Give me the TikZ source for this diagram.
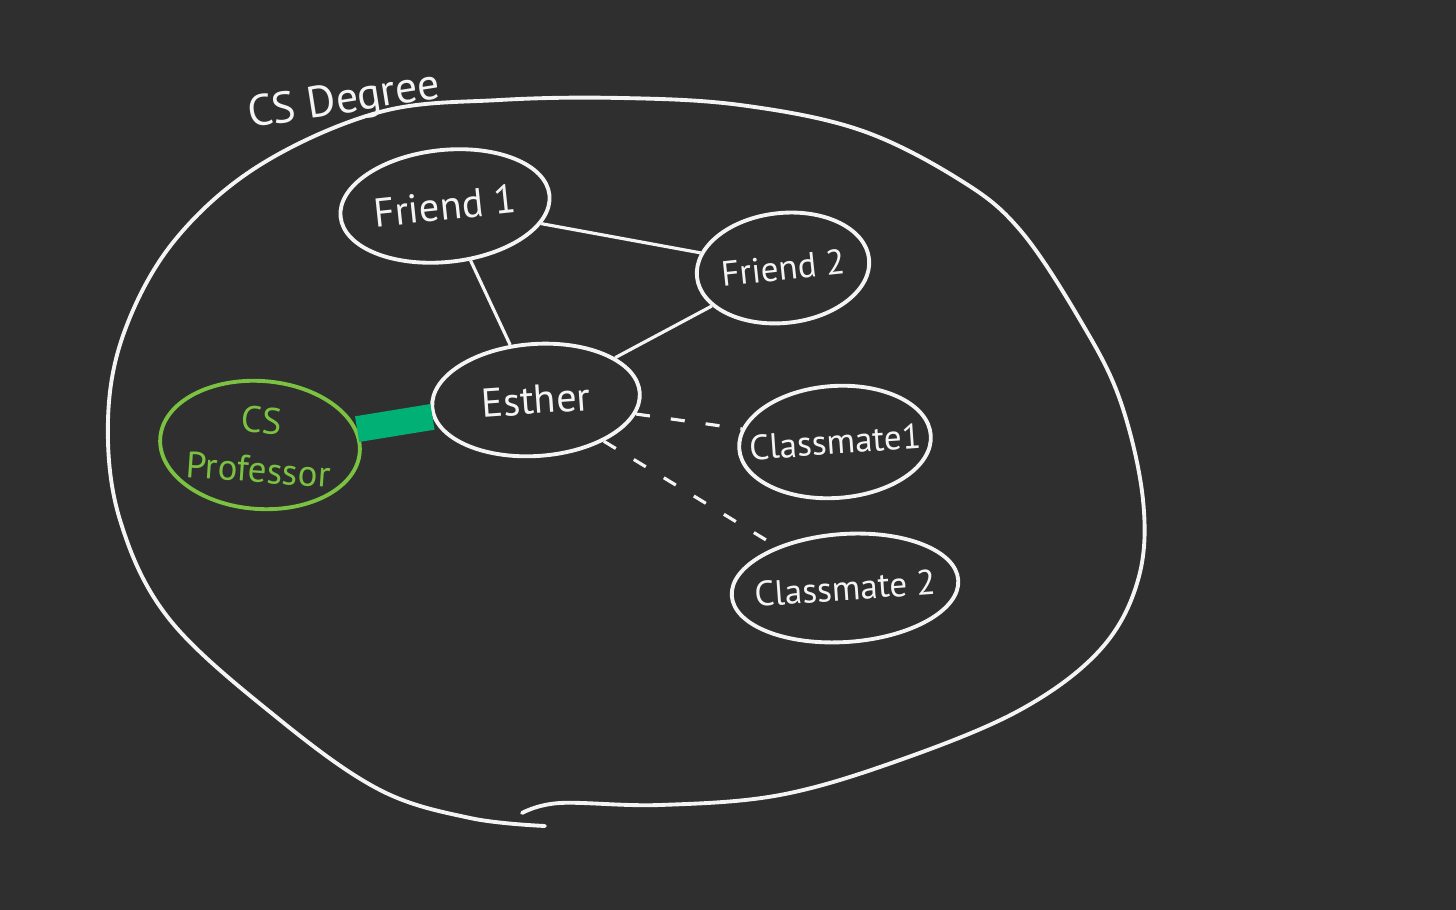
\documentclass[tikz,border=0pt]{standalone}
\usepackage{fontspec}
\setmainfont{PT Sans}
\usetikzlibrary{shapes.geometric,positioning,calc}
\definecolor{board}{HTML}{2F2F2F}
\definecolor{chalk}{HTML}{F4F4F4}
\definecolor{profgreen}{HTML}{7CC242}
\definecolor{marker}{HTML}{00B074}

\begin{document}
\begin{tikzpicture}[
  person/.style={ellipse, draw=chalk, line width=1.1pt, text=chalk, inner sep=-8pt, minimum width=#1, minimum height=1.12cm, align=center, font=\fontsize{11.5pt}{12pt}\selectfont},
  small/.style={font=\fontsize{10pt}{12pt}\selectfont},
  link/.style={draw=chalk, line width=0.9pt},
  dlink/.style={link, dash pattern=on 4pt off 6pt}
]
  \fill[board] (0,0) rectangle (14.56,9.10);
  \useasboundingbox (0,0) rectangle (14.56,9.10);

  % the degree region
  \draw[chalk, line width=1.1pt, line cap=round] plot[smooth, tension=0.6] coordinates {
    (5.45,0.84) (4.70,0.92) (3.80,1.20) (2.80,1.90) (1.70,2.90) (1.20,3.90)
    (1.08,4.90) (1.25,5.80) (1.75,6.70) (2.60,7.45) (3.80,7.98) (5.00,8.10)
    (6.20,8.12) (7.40,8.05) (8.60,7.80) (9.60,7.30) (10.20,6.80) (10.80,5.90)
    (11.20,5.10) (11.43,4.10) (11.38,3.30) (11.00,2.60) (10.20,2.00) (9.00,1.50)
    (7.80,1.15) (6.60,1.05) (5.60,1.07) (5.22,0.97)};
  \node[text=chalk, rotate=9, font=\fontsize{12.5pt}{14pt}\selectfont] (title) at (3.44,8.08) {CS Degree};

  % people
  \node[person=2.1cm, rotate=6] (friendA) at (4.45,7.04) {Friend 1};
  \node[person=1.73cm, minimum height=1.1cm, rotate=6, small] (friendB) at (7.83,6.42) {Friend 2};
  \node[person=2.08cm, minimum height=1.12cm, rotate=4] (esther) at (5.36,5.10) {Esther};
  \node[person=2.0cm, minimum height=1.28cm, draw=profgreen, text=profgreen, rotate=-4, font=\fontsize{10.5pt}{14pt}\selectfont] (prof) at (2.60,4.65) {CS\\Professor};
  \node[person=1.92cm, minimum height=1.12cm, rotate=4, small] (mateA) at (8.35,4.68) {Classmate1};
  \node[person=2.27cm, minimum height=1.08cm, rotate=4, small] (mateB) at (8.45,3.22) {Classmate 2};

  % ties
  \draw[link] (friendA) -- (friendB);
  \draw[link] (friendA) -- (esther);
  \draw[link] (friendB) -- (esther);
  \draw[dlink] (esther) -- (mateA);
  \draw[dlink] (esther) -- (mateB);
  \draw[marker, line width=2.6mm] (prof) -- (esther);
\end{tikzpicture}
\end{document}
